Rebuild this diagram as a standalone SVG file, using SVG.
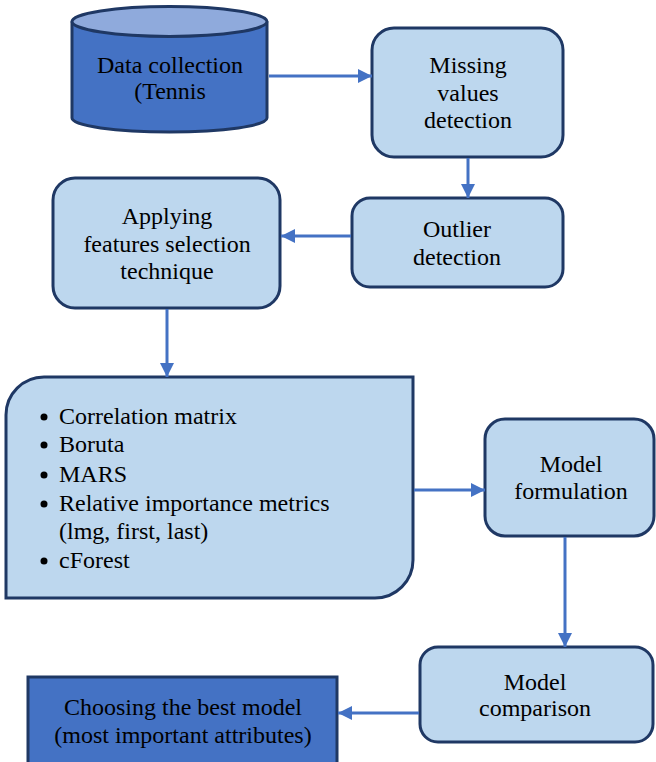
<svg xmlns="http://www.w3.org/2000/svg" width="656" height="762" viewBox="0 0 656 762">
  <defs>
    <marker id="arr" viewBox="0 0 10 10" refX="10" refY="5" markerWidth="14" markerHeight="14" markerUnits="userSpaceOnUse" orient="auto">
      <path d="M0,0 L10,5 L0,10 z" fill="#4472C4"/>
    </marker>
  </defs>
  <style>
    .box { fill: #BDD7EE; stroke: #1F3864; stroke-width: 3; }
    .dark { fill: #4472C4; stroke: #1F3864; stroke-width: 3; }
    .lbl { font-family: "Liberation Serif", "Times New Roman", serif; font-size: 24px; fill: #000; text-anchor: middle; }
    .lft { font-family: "Liberation Serif", "Times New Roman", serif; font-size: 24px; fill: #000; }
    .conn { stroke: #4472C4; stroke-width: 3; fill: none; marker-end: url(#arr); }
  </style>
  <rect width="656" height="762" fill="#FFFFFF"/>

  <g id="data-collection">
    <path class="dark" d="M72,21.5 L72,118 A97.5,14 0 0 0 267,118 L267,21.5"/>
    <ellipse cx="169.5" cy="21.5" rx="97.5" ry="15" fill="#8FAADC" stroke="#1F3864" stroke-width="3"/>
    <text class="lbl" x="170" y="73">Data collection</text>
    <text class="lbl" x="170" y="99">(Tennis</text>
  </g>

  <g id="missing-values">
    <rect class="box" x="372" y="28" width="191" height="129" rx="22"/>
    <text class="lbl" x="468" y="73">Missing</text>
    <text class="lbl" x="468" y="101">values</text>
    <text class="lbl" x="468" y="128">detection</text>
  </g>

  <g id="outlier">
    <rect class="box" x="352" y="198" width="211" height="89" rx="18"/>
    <text class="lbl" x="457" y="237">Outlier</text>
    <text class="lbl" x="457" y="265">detection</text>
  </g>

  <g id="applying">
    <rect class="box" x="53" y="178" width="227" height="130" rx="22"/>
    <text class="lbl" x="167" y="224">Applying</text>
    <text class="lbl" x="167" y="252">features selection</text>
    <text class="lbl" x="167" y="279">technique</text>
  </g>

  <g id="methods">
    <path class="box" d="M6,415 A38,38 0 0 1 44,377 L413,377 L413,560 A38,38 0 0 1 375,598 L6,598 Z"/>
    <circle cx="44" cy="417" r="3.5" fill="#000"/>
    <circle cx="44" cy="445" r="3.5" fill="#000"/>
    <circle cx="44" cy="475" r="3.5" fill="#000"/>
    <circle cx="44" cy="504" r="3.5" fill="#000"/>
    <circle cx="44" cy="561" r="3.5" fill="#000"/>
    <text class="lft" x="59" y="424">Correlation matrix</text>
    <text class="lft" x="59" y="452">Boruta</text>
    <text class="lft" x="59" y="482">MARS</text>
    <text class="lft" x="59" y="511">Relative importance metrics</text>
    <text class="lft" x="59" y="539">(lmg, first, last)</text>
    <text class="lft" x="59" y="568">cForest</text>
  </g>

  <g id="model-formulation">
    <rect class="box" x="485" y="419" width="169" height="117" rx="20"/>
    <text class="lbl" x="571" y="472">Model</text>
    <text class="lbl" x="571" y="499">formulation</text>
  </g>

  <g id="model-comparison">
    <rect class="box" x="420" y="647" width="233" height="95" rx="18"/>
    <text class="lbl" x="535" y="690">Model</text>
    <text class="lbl" x="535" y="716">comparison</text>
  </g>

  <g id="choosing">
    <rect class="dark" x="28" y="677" width="309" height="95"/>
    <text class="lbl" x="183" y="715">Choosing the best model</text>
    <text class="lbl" x="183" y="743">(most important attributes)</text>
  </g>

  <g id="connectors">
    <line class="conn" x1="269" y1="76" x2="372" y2="76"/>
    <line class="conn" x1="468" y1="158" x2="468" y2="198"/>
    <line class="conn" x1="351" y1="236" x2="281" y2="236"/>
    <line class="conn" x1="167" y1="309" x2="167" y2="377"/>
    <line class="conn" x1="414" y1="490" x2="485" y2="490"/>
    <line class="conn" x1="565" y1="537" x2="565" y2="647"/>
    <line class="conn" x1="419" y1="713" x2="338" y2="713"/>
  </g>
</svg>
